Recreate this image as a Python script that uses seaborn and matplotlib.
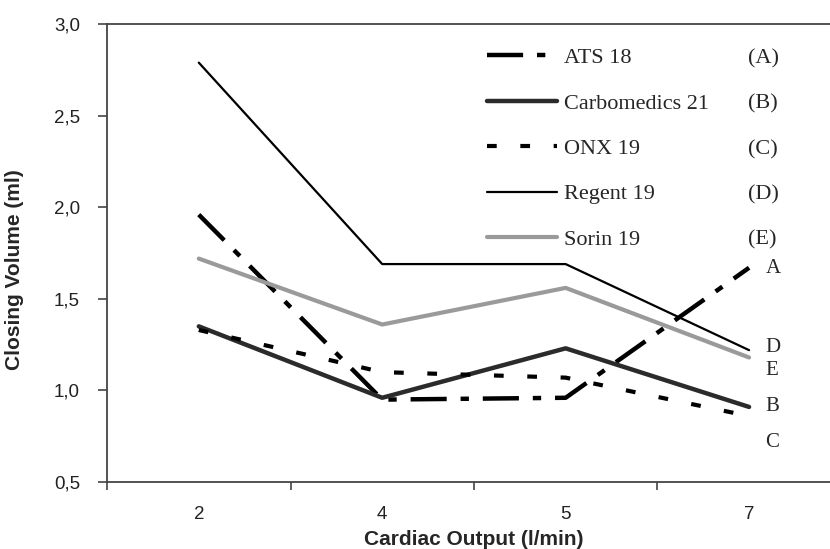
import numpy as np
import pandas as pd
import seaborn as sns
import matplotlib.pyplot as plt
from matplotlib.ticker import FuncFormatter

# Data
cardiac_output = ['2', '4', '5', '7']
ats_18 = [1.96, 0.95, 0.96, 1.67]
carbomedics_21 = [1.35, 0.96, 1.23, 0.91]
onx_19 = [1.33, 1.10, 1.07, 0.86]
regent_19 = [2.79, 1.69, 1.69, 1.22]
sorin_19 = [1.72, 1.36, 1.56, 1.18]

series_names = ['ATS 18', 'Carbomedics 21', 'ONX 19', 'Regent 19', 'Sorin 19']
series_letters = ['(A)', '(B)', '(C)', '(D)', '(E)']
end_letters = ['A', 'B', 'C', 'D', 'E']
end_letter_y = [1.665, 0.915, 0.715, 1.235, 1.11]

# Settings
sns.set_theme(style="ticks")
plt.rcParams['font.family'] = ['Liberation Sans', 'DejaVu Sans']
plt.rcParams['lines.scale_dashes'] = False

styles = {
    'ATS 18': dict(color='black', lw=3.2, linestyle=(0, (26, 10, 6, 10))),
    'Carbomedics 21': dict(color='#2b2b2b', lw=3.2, linestyle='-'),
    'ONX 19': dict(color='black', lw=3.0, linestyle=(0, (7, 17))),
    'Regent 19': dict(color='black', lw=1.6, linestyle='-'),
    'Sorin 19': dict(color='#9a9a9a', lw=3.0, linestyle='-'),
}
values = [ats_18, carbomedics_21, onx_19, regent_19, sorin_19]

fig = plt.figure(figsize=(8.3, 5.49), dpi=100)
ax = fig.add_axes([0.129, 0.122, 0.884, 0.834])

for name, vals in zip(series_names, values):
    sns.lineplot(x=cardiac_output, y=vals, ax=ax, label=name,
                 errorbar=None, **styles[name])

ax.set_xlim(-0.5, 3.5)
ax.set_ylim(0.5, 3.0)
ax.set_yticks(np.arange(0.5, 3.01, 0.5))
ax.yaxis.set_major_formatter(FuncFormatter(lambda v, p: f'{v:.1f}'.replace('.', ',')))
ax.set_xticks([-0.5, 0.5, 1.5, 2.5, 3.5], minor=True)
ax.tick_params(axis='x', which='major', length=0, pad=17.5, labelsize=13.5, colors='#222222')
ax.tick_params(axis='x', which='minor', length=6, width=1.2, direction='out', color='#444444')
ax.tick_params(axis='y', length=6.5, width=1.2, direction='out', pad=13, labelsize=13.5,
               color='#444444', labelcolor='#222222')
for s in ax.spines.values():
    s.set_color('#444444')
    s.set_linewidth(1.3)

ax.set_xlabel('Cardiac Output (l/min)', fontsize=15, fontweight='bold', labelpad=5)
ax.set_ylabel('Closing Volume (ml)', fontsize=15, fontweight='bold')
ax.yaxis.set_label_coords(-0.113, 0.463)

leg = ax.legend(loc='upper left', bbox_to_anchor=(0.518, 0.949), frameon=False,
                borderpad=0, borderaxespad=0, handlelength=3.15, handletextpad=0.32,
                labelspacing=1.12, prop={'family': 'Liberation Serif', 'size': 16})

# end-of-line letters
for letter, y in zip(end_letters, end_letter_y):
    ax.text(3.09, y, letter, ha='left', va='center', fontsize=15,
            family='Liberation Serif')

# letter codes next to the legend rows
fig.canvas.draw()
for t, code in zip(leg.get_texts(), series_letters):
    bb = t.get_window_extent()
    yc = (bb.y0 + bb.y1) / 2 / fig.bbox.height
    fig.text(748 / 830, yc, code, ha='left', va='center', fontsize=16,
             family='Liberation Serif')

plt.savefig('out.png', dpi=100)
plt.close()
